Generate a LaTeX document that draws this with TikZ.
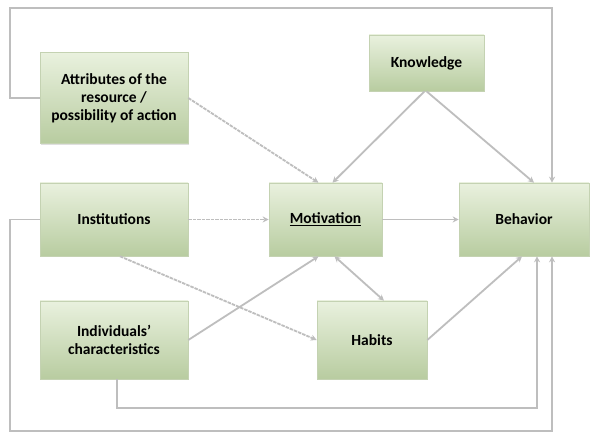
\documentclass[tikz,border=0pt]{standalone}
\usepackage{fontspec}
\setmainfont{Carlito}
\usetikzlibrary{arrows.meta,shadows}
\definecolor{boxTop}{RGB}{233,241,222}
\definecolor{boxBot}{RGB}{184,204,160}
\definecolor{boxLine}{RGB}{196,210,178}
\definecolor{linkColor}{RGB}{190,190,190}
\tikzset{
  factor/.style={draw=boxLine,line width=0.6pt,top color=boxTop,bottom color=boxBot,
    inner sep=2pt,align=center,font=\fontsize{15.5}{18}\selectfont\bfseries,
    drop shadow={shadow xshift=1pt,shadow yshift=-1.5pt,opacity=0.25}},
  link/.style={draw=linkColor,line width=1.8pt,-{Stealth[length=6pt,width=6pt]}},
  dashlink/.style={link,dash pattern=on 3.5pt off 1pt},
}
\begin{document}
\begin{tikzpicture}[x=1pt,y=1pt]
\path[use as bounding box,fill=white] (0,0) rectangle (604,433);

% factors
\node[factor,minimum width=148pt,minimum height=91pt] (attr) at (114,335) {Attributes of the\\resource /\\possibility of action};
\node[factor,minimum width=115pt,minimum height=56pt] (know) at (426.5,370) {Knowledge};
\node[factor,minimum width=148pt,minimum height=73pt] (inst) at (114,213.5) {Institutions};
\node[factor,minimum width=113pt,minimum height=73pt] (motiv) at (325.5,213.5) {\underline{Motivation}};
\node[factor,minimum width=130pt,minimum height=73pt] (behav) at (524,213.5) {Behavior};
\node[factor,minimum width=148pt,minimum height=78pt] (indiv) at (114,93) {Individuals'\\characteristics};
\node[factor,minimum width=110pt,minimum height=78pt] (habit) at (372,93) {Habits};

% loop corners
\coordinate (topRight) at (552,425);
\coordinate (lowRight) at (537,25);
\coordinate (botRight) at (552,2);

% outer loops
\draw[link] (attr.west) -- ++(-30,0) |- (topRight) -- ([xshift=28pt]behav.north);
\draw[link] ([xshift=3pt]indiv.south) |- (lowRight) -- ([xshift=13pt]behav.south);
\draw[link] (inst.west) -- ++(-30,0) |- (botRight) -- ([xshift=28pt]behav.south);

% direct links
\draw[dashlink] (attr.east) -- ([xshift=-7pt]motiv.north);
\draw[link] ([xshift=-2pt]know.south) -- ([xshift=7pt]motiv.north);
\draw[link] (know.south) -- ([xshift=10pt]behav.north);
\draw[dashlink] (inst.east) -- (motiv.west);
\draw[link] (motiv.east) -- (behav.west);
\draw[dashlink] ([xshift=6pt]inst.south) -- (habit.west);
\draw[link] (indiv.east) -- ([xshift=-7pt]motiv.south);
\draw[link,{Stealth[length=6pt,width=6pt]}-{Stealth[length=6pt,width=6pt]}] ([xshift=9pt]motiv.south) -- ([xshift=12pt]habit.north);
\draw[link] (habit.east) -- ([xshift=-2pt]behav.south);
\end{tikzpicture}
\end{document}
